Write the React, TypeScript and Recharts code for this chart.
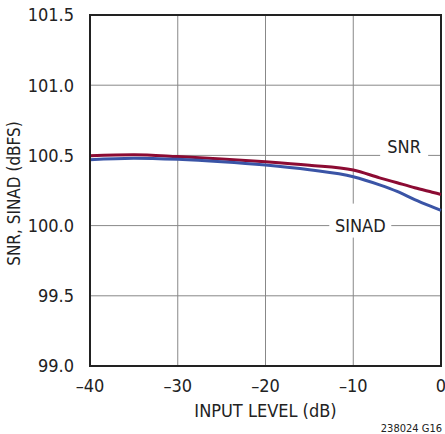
import {
  LineChart,
  Line,
  XAxis,
  YAxis,
  CartesianGrid,
  ReferenceArea,
  ReferenceDot,
  Label,
} from "recharts";

const inputLevel = [-40, -35, -30, -25, -20, -15, -10, -7, -5, -3, -1, 0];
const snr = [100.498, 100.505, 100.492, 100.475, 100.455, 100.43, 100.396, 100.34, 100.305, 100.27, 100.238, 100.222];
const sinad = [100.469, 100.48, 100.472, 100.455, 100.431, 100.397, 100.348, 100.29, 100.243, 100.185, 100.133, 100.108];

const xTicks = [-40, -30, -20, -10, 0];
const yTicks = [99, 99.5, 100, 100.5, 101, 101.5];

const data = inputLevel.map((x, i) => ({ x, snr: snr[i], sinad: sinad[i] }));

const FONT = "'Liberation Sans Narrow', 'DejaVu Sans Condensed', Arial, sans-serif";

const fmtX = (v: number) => (v < 0 ? "\u2013" + Math.abs(v) : String(v));

// white box that breaks the grid, with the series name on top
const TagShape = ({ cx, cy, text, w, h, up }: any) => (
  <g>
    <rect x={cx - w / 2} y={cy - h / 2 - up} width={w} height={h} fill="#fff" />
    <text
      x={cx}
      y={cy}
      textAnchor="middle"
      dominantBaseline="central"
      fontFamily={FONT}
      fontSize={18}
      fill="#222"
    >
      {text}
    </text>
  </g>
);

export default function App() {
  return (
    <div style={{ position: "absolute", left: 0, top: 0, background: "#fff" }}>
      <LineChart
        width={445}
        height={434}
        data={data}
        margin={{ top: 15, right: 4, bottom: 0, left: 0 }}
      >
        <CartesianGrid stroke="#888" strokeWidth={1} />
        <XAxis
          dataKey="x"
          type="number"
          domain={[-40, 0]}
          ticks={xTicks}
          tickFormatter={fmtX}
          height={68}
          tickLine={false}
          tickMargin={7}
          axisLine={{ stroke: "#222", strokeWidth: 2 }}
          tick={{ fill: "#222", fontSize: 18, fontFamily: FONT }}
          interval={0}
        >
          <Label
            content={({ viewBox }: any) => (
              <text
                x={viewBox.x + viewBox.width / 2}
                y={viewBox.y + 44}
                textAnchor="middle"
                dominantBaseline="central"
                fontFamily={FONT}
                fontSize={18}
                fill="#222"
              >
                INPUT LEVEL (dB)
              </text>
            )}
          />
          <Label
            content={({ viewBox }: any) => (
              <text
                x={viewBox.x + viewBox.width + 1}
                y={viewBox.y + 62}
                textAnchor="end"
                dominantBaseline="central"
                fontFamily={FONT}
                fontSize={11}
                fill="#222"
              >
                238024 G16
              </text>
            )}
          />
        </XAxis>
        <YAxis
          type="number"
          domain={[99, 101.5]}
          ticks={yTicks}
          tickFormatter={(v: number) => v.toFixed(1)}
          width={90}
          tickLine={false}
          tickMargin={10}
          axisLine={{ stroke: "#222", strokeWidth: 2 }}
          tick={{ fill: "#222", fontSize: 18, fontFamily: FONT }}
          interval={0}
        >
          <Label
            content={({ viewBox }: any) => {
              const cx = viewBox.x + 14;
              const cy = viewBox.y + viewBox.height / 2 + 3;
              return (
                <text
                  x={cx}
                  y={cy}
                  transform={`rotate(-90 ${cx} ${cy})`}
                  textAnchor="middle"
                  dominantBaseline="central"
                  fontFamily={FONT}
                  fontSize={17}
                  fill="#222"
                >
                  SNR, SINAD (dBFS)
                </text>
              );
            }}
          />
        </YAxis>
        <ReferenceArea
          x1={-40}
          x2={0}
          y1={99}
          y2={101.5}
          fill="none"
          stroke="#222"
          strokeWidth={2}
          fillOpacity={0}
        />
        <Line
          type="monotone"
          dataKey="snr"
          stroke="#8c0b33"
          strokeWidth={3}
          dot={false}
          isAnimationActive={false}
        />
        <Line
          type="monotone"
          dataKey="sinad"
          stroke="#3a54a6"
          strokeWidth={3}
          dot={false}
          isAnimationActive={false}
        />
        <ReferenceDot
          x={-4.2}
          y={100.56}
          r={0}
          shape={(p: any) => <TagShape {...p} text="SNR" w={48} h={22} up={0} />}
        />
        <ReferenceDot
          x={-9.2}
          y={100.0}
          r={0}
          shape={(p: any) => <TagShape {...p} text="SINAD" w={62} h={34} up={5} />}
        />
      </LineChart>
    </div>
  );
}
